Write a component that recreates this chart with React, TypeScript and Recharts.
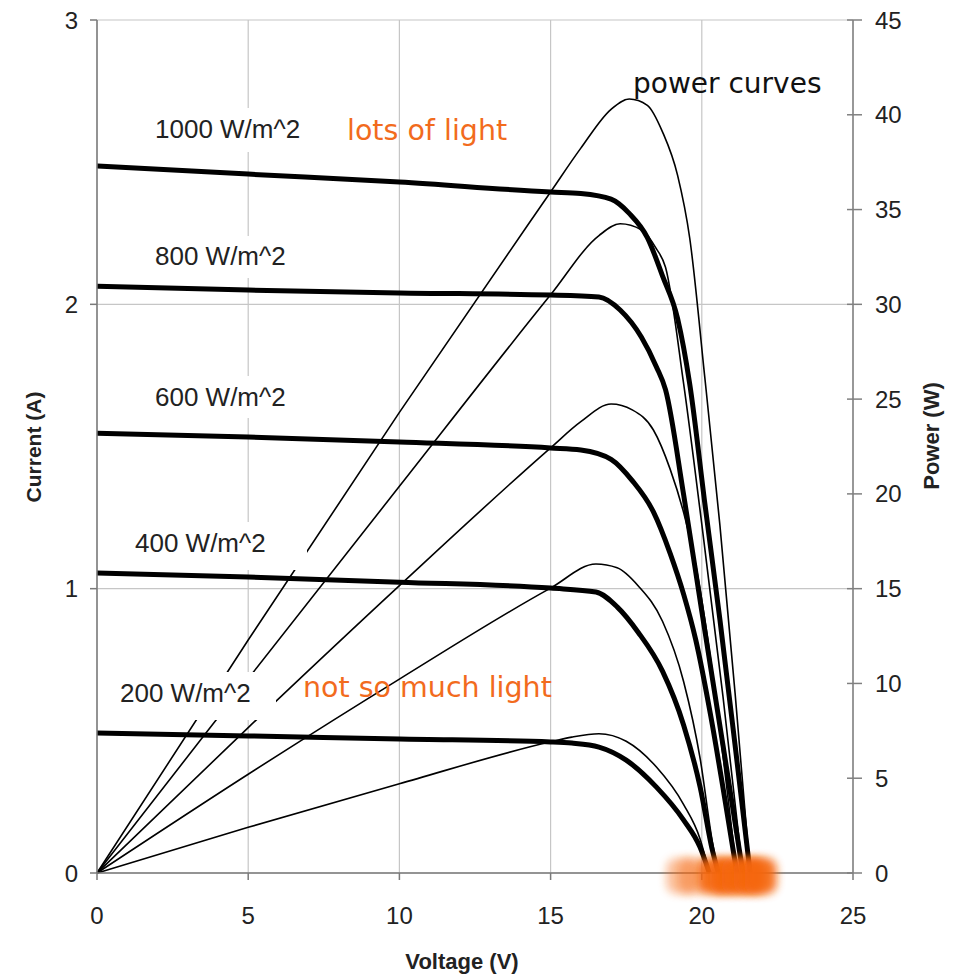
import React from 'react';
import { ComposedChart, Line, Scatter, XAxis, YAxis, CartesianGrid } from 'recharts';

// ---- axis ticks ----
const voltageTicks = [0, 5, 10, 15, 20, 25];
const currentTicks = [0, 1, 2, 3];
const powerTicks = [0, 5, 10, 15, 20, 25, 30, 35, 40, 45];

// ---- 1000 W/m^2 ----
const v1000 = [0, 5, 10, 15, 16, 17, 17.6, 18.2, 18.7, 19.2, 19.6, 20.1, 20.6, 21.1, 21.6];
const i1000 = [2.487, 2.458, 2.43, 2.395, 2.39, 2.37, 2.32, 2.235, 2.1, 1.95, 1.72, 1.3, 0.89, 0.45, 0];
const p1000 = [0, 12.29, 24.3, 35.93, 38.24, 40.29, 40.83, 40.5, 39.1, 36.8, 33.5, 26.13, 18.33, 9.5, 0];

// ---- 800 W/m^2 ----
const v800 = [0, 5, 10, 15, 16.6, 17.3, 18.0, 18.5, 18.8, 19.4, 20.0, 20.7, 21.36];
const i800 = [2.064, 2.05, 2.04, 2.033, 2.026, 1.98, 1.885, 1.78, 1.7, 1.33, 0.92, 0.45, 0];
const p800 = [0, 10.25, 20.4, 30.5, 33.63, 34.25, 33.93, 32.93, 31.96, 25.8, 18.4, 9.32, 0];

// ---- 600 W/m^2 ----
const v600 = [0, 5, 10, 15, 16, 17, 17.7, 18.4, 18.95, 19.4, 19.8, 20.3, 20.7, 21.16];
const i600 = [1.547, 1.533, 1.516, 1.495, 1.488, 1.455, 1.38, 1.27, 1.125, 0.98, 0.82, 0.55, 0.3, 0];
const p600 = [0, 7.67, 15.16, 22.43, 23.81, 24.74, 24.43, 23.37, 21.32, 19.01, 16.24, 11.17, 6.21, 0];

// ---- 400 W/m^2 ----
const v400 = [0, 5, 10, 15, 16.5, 17.2, 17.9, 18.7, 19.4, 19.95, 20.35, 20.55];
const i400 = [1.055, 1.041, 1.023, 1.002, 0.988, 0.936, 0.846, 0.71, 0.52, 0.3, 0.08, 0];
const p400 = [0, 5.21, 10.23, 15.03, 16.3, 16.1, 15.14, 13.28, 10.09, 5.99, 1.63, 0];

// ---- 200 W/m^2 ----
const v200 = [0, 5, 10, 15, 15.7, 16.6, 17.5, 18.5, 19.4, 19.94, 20.25];
const i200 = [0.492, 0.482, 0.471, 0.461, 0.457, 0.443, 0.397, 0.302, 0.186, 0.091, 0];
const p200 = [0, 2.41, 4.71, 6.92, 7.17, 7.35, 6.95, 5.59, 3.61, 1.81, 0];

// ---- orange open-circuit highlight ----
const orangeFaintV = [19.35, 19.75];
const orangeDenseV = [20.4, 20.8, 21.2, 21.6, 21.95];
const orangeI = 0;

// ---- texts ----
const irradianceLabels = ['1000 W/m^2', '800 W/m^2', '600 W/m^2', '400 W/m^2', '200 W/m^2'];
const noteTexts = ['lots of light', 'not so much light', 'power curves'];
const axisTitles = { x: 'Voltage (V)', left: 'Current (A)', right: 'Power (W)' };

const rows = (vs: number[], ys: number[], key: string) => vs.map((v, k) => ({ v, [key]: ys[k] }));

const currentSeries = [
  rows(v1000, i1000, 'i'),
  rows(v800, i800, 'i'),
  rows(v600, i600, 'i'),
  rows(v400, i400, 'i'),
  rows(v200, i200, 'i'),
];
const powerSeries = [
  rows(v1000, p1000, 'p'),
  rows(v800, p800, 'p'),
  rows(v600, p600, 'p'),
  rows(v400, p400, 'p'),
  rows(v200, p200, 'p'),
];
const orangeFaint = orangeFaintV.map((v) => ({ v, i: orangeI }));
const orangeDense = orangeDenseV.map((v) => ({ v, i: orangeI }));

const SANS = '"Liberation Sans", Arial, sans-serif';
const NOTE = '"DejaVu Sans", Verdana, sans-serif';
const tickStyle = { fontFamily: SANS, fontSize: 24, fill: '#222' };

const Blob = (opacity: number) => (props: any) => {
  const { cx, cy } = props;
  if (cx == null || cy == null) return null;
  return (
    <rect
      x={cx - 16}
      y={cy - 15}
      width={32}
      height={36}
      rx={10}
      fill="#f5660f"
      opacity={opacity}
      filter="url(#orangeBlur)"
    />
  );
};

const RightTick = (props: any) => {
  const { x, y, payload } = props;
  const ax = x - 22;
  return (
    <g>
      <line x1={ax - 6} x2={ax + 9} y1={y} y2={y} stroke="#808080" strokeWidth={1.5} />
      <text x={x} y={y} dy="0.355em" textAnchor="start" style={tickStyle as any}>
        {payload.value}
      </text>
    </g>
  );
};

const boxes = [
  { x: 142, y: 100, w: 162, h: 44 },
  { x: 142, y: 228, w: 148, h: 42 },
  { x: 142, y: 368, w: 148, h: 42 },
  { x: 120, y: 514, w: 179, h: 48 },
  { x: 104, y: 664, w: 164, h: 48 },
];
const labelPos = [
  { x: 147, y: 130 },
  { x: 147, y: 257 },
  { x: 147, y: 398 },
  { x: 127, y: 544 },
  { x: 112, y: 694 },
];

export default function App() {
  return (
    <div style={{ position: 'relative', width: 949, height: 967 }}>
      <ComposedChart width={949} height={967} margin={{ top: 12, right: 0, bottom: 0, left: 0 }}>
        <CartesianGrid yAxisId="i" stroke="#c6c6c6" strokeWidth={1.2} />
        <XAxis
          type="number"
          dataKey="v"
          domain={[0, 25]}
          ticks={voltageTicks}
          interval={0}
          allowDuplicatedCategory={false}
          height={102}
          tickSize={7}
          tickMargin={27}
          stroke="#7a7a7a"
          strokeWidth={1.5}
          tick={tickStyle}
        />
        <YAxis
          yAxisId="i"
          type="number"
          domain={[0, 3]}
          ticks={currentTicks}
          interval={0}
          width={89}
          tickSize={7}
          tickMargin={12}
          stroke="#7a7a7a"
          strokeWidth={1.5}
          tick={tickStyle}
        />
        <YAxis
          yAxisId="p"
          orientation="right"
          type="number"
          domain={[0, 45]}
          ticks={powerTicks}
          interval={0}
          width={104}
          tickSize={9}
          tickMargin={13}
          tickLine={false}
          stroke="#808080"
          strokeWidth={1.5}
          tick={<RightTick />}
        />
        <Scatter yAxisId="i" data={orangeFaint} dataKey="i" shape={Blob(0.4)} isAnimationActive={false} />
        <Scatter yAxisId="i" data={orangeDense} dataKey="i" shape={Blob(0.88)} isAnimationActive={false} />
        {powerSeries.map((d, k) => (
          <Line
            key={'p' + k}
            yAxisId="p"
            data={d}
            dataKey="p"
            type="monotone"
            stroke="#000"
            strokeWidth={1.6}
            dot={false}
            activeDot={false}
            isAnimationActive={false}
          />
        ))}
        {currentSeries.map((d, k) => (
          <Line
            key={'i' + k}
            yAxisId="i"
            data={d}
            dataKey="i"
            type="monotone"
            stroke="#000"
            strokeWidth={5}
            dot={false}
            activeDot={false}
            isAnimationActive={false}
          />
        ))}
      </ComposedChart>
      <svg
        width={949}
        height={967}
        style={{ position: 'absolute', left: 0, top: 0, pointerEvents: 'none' }}
      >
        <defs>
          <filter id="orangeBlur" x="-50%" y="-50%" width="200%" height="200%">
            <feGaussianBlur stdDeviation="4.5" />
          </filter>
        </defs>
        {boxes.map((b, k) => (
          <rect key={'b' + k} x={b.x} y={b.y} width={b.w} height={b.h} fill="#fff" />
        ))}
        {irradianceLabels.map((t, k) => (
          <text key={'l' + k} x={labelPos[k].x} y={labelPos[k].y} fontFamily={SANS} fontSize={26} fill="#222">
            {t}
          </text>
        ))}
        <text x={339} y={132} fontFamily={NOTE} fontSize={28.5} fill="#f26b1d">
          {noteTexts[0]}
        </text>
        <text x={295} y={689} fontFamily={NOTE} fontSize={28.5} fill="#f26b1d">
          {noteTexts[1]}
        </text>
        <text x={625} y={85} fontFamily={NOTE} fontSize={28} fill="#111">
          {noteTexts[2]}
        </text>
        <text
          x={25}
          y={439}
          transform="rotate(-90 25 439)"
          textAnchor="middle"
          dominantBaseline="central"
          fontFamily={SANS}
          fontWeight="bold"
          fontSize={21}
          fill="#222"
        >
          {axisTitles.left}
        </text>
        <text
          x={923}
          y={428}
          transform="rotate(-90 923 428)"
          textAnchor="middle"
          dominantBaseline="central"
          fontFamily={SANS}
          fontWeight="bold"
          fontSize={22}
          fill="#222"
        >
          {axisTitles.right}
        </text>
        <text x={454} y={961} textAnchor="middle" fontFamily={SANS} fontWeight="bold" fontSize={22} fill="#222">
          {axisTitles.x}
        </text>
      </svg>
    </div>
  );
}
